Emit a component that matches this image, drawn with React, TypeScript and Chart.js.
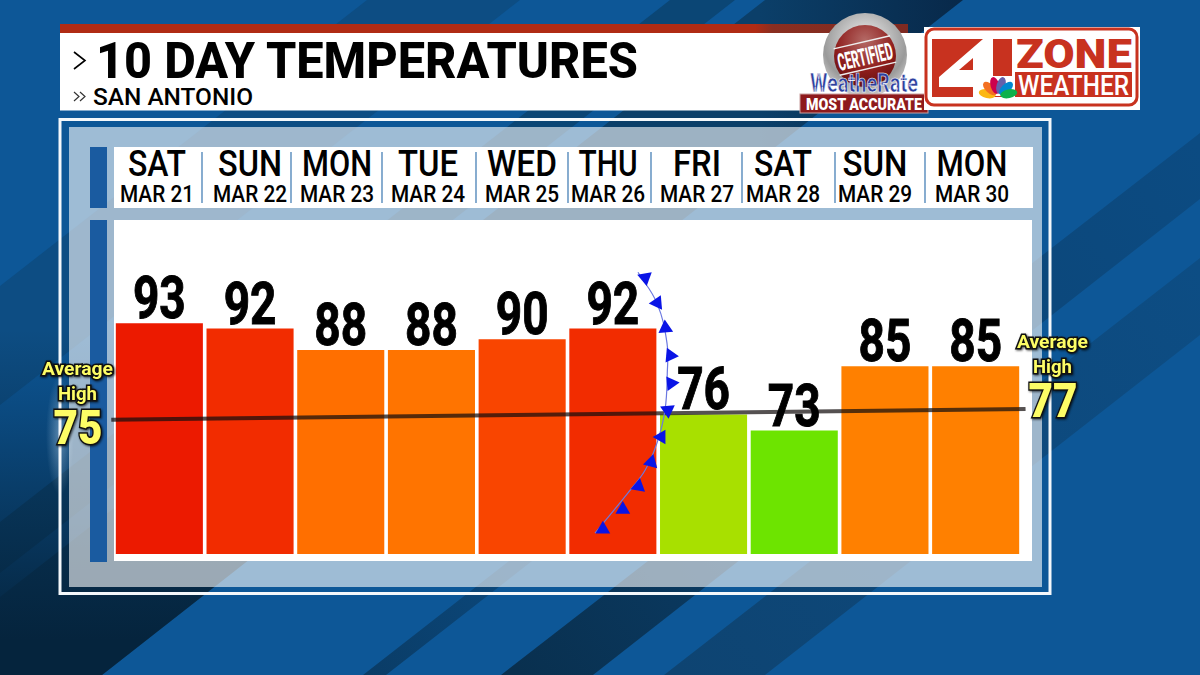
import { useEffect, useRef } from "react"
import { Chart, registerables, type Plugin } from "chart.js"

Chart.register(...registerables)

const DAYS = ["SAT", "SUN", "MON", "TUE", "WED", "THU", "FRI", "SAT", "SUN", "MON"]
const DATES = ["MAR 21", "MAR 22", "MAR 23", "MAR 24", "MAR 25", "MAR 26", "MAR 27", "MAR 28", "MAR 29", "MAR 30"]
const HIGHS = [93, 92, 88, 88, 90, 92, 76, 73, 85, 85]
const BAR_COLORS = ["#ec1a00", "#f22c00", "#ff6f00", "#ff7400", "#f94500", "#f22c00", "#a8e000", "#6de400", "#ff8000", "#ff8000"]

// normal high runs across the whole plot, x is in day slots
const AVG_X = [-0.03, 10.05]
const AVG_Y = [75, 77]

// cold front line, x in day slots, y on the temperature scale
const FRONT_X = [5.777, 5.987, 6.097, 6.1, 6.075, 5.987, 5.855, 5.667, 5.303]
const FRONT_Y = [102.5, 96.7, 89.3, 83.7, 76.8, 70.7, 65.6, 61.4, 53.9]

// the barbs on that line
const BARB_X = [5.857, 5.989, 6.08, 6.135, 6.143, 6.106, 6.033, 5.923, 5.783, 5.61, 5.39]
const BARB_Y = [101.5, 96.8, 92.1, 87, 81.8, 76.8, 71.8, 67.1, 62.6, 58.3, 54.6]
const BARB_TURN = [170, 145, 115, 95, 85, 55, 30, 15, 10, 0, 0]

// header strip placement
const HEAD_CENTERS = [157, 250, 337, 428, 522, 608, 697, 783, 875, 972]
const HEAD_WIDTHS = [58, 64, 70, 60, 70, 59, 48, 58, 65, 71]
const HEAD_SEPS = [202, 291, 382, 476, 568, 651, 742, 835, 925]
const PEACOCK = [
  { angle: -78, color: "#fcb711" },
  { angle: -47, color: "#f37021" },
  { angle: -16, color: "#cc004c" },
  { angle: 16, color: "#6460aa" },
  { angle: 47, color: "#0089d0" },
  { angle: 78, color: "#0db14b" },
]

const FONT = "Roboto, 'Noto Sans', sans-serif"

const bigLabels: Plugin<"bar"> = {
  id: "bigLabels",
  afterDatasetsDraw(chart) {
    const { ctx } = chart
    const bars = chart.getDatasetMeta(0).data
    ctx.save()
    ctx.fillStyle = "#000"
    ctx.strokeStyle = "#000"
    ctx.lineWidth = 1
    ctx.textAlign = "center"
    ctx.textBaseline = "alphabetic"
    ctx.font = `bold 59px ${FONT}`
    bars.forEach((bar, i) => {
      ctx.save()
      ctx.translate(bar.x, bar.y - 5)
      ctx.scale(0.78, 1)
      ctx.fillText(String(HIGHS[i]), 0, 0)
      ctx.strokeText(String(HIGHS[i]), 0, 0)
      ctx.restore()
    })
    ctx.restore()
  },
}

function Backdrop() {
  return (
    <svg width={1200} height={675} style={{ position: "absolute", left: 0, top: 0 }} fontFamily={FONT}>
      <defs>
        <linearGradient id="cornerFade" gradientUnits="userSpaceOnUse" x1="0" y1="330" x2="0" y2="640">
          <stop offset="0" stopColor="#05243d" stopOpacity="0" />
          <stop offset="1" stopColor="#05243d" stopOpacity="1" />
        </linearGradient>
        <linearGradient id="bandC" gradientUnits="userSpaceOnUse" x1="760" y1="0" x2="960" y2="0">
          <stop offset="0" stopColor="#0b3f69" />
          <stop offset="1" stopColor="#08294a" />
        </linearGradient>
        <linearGradient id="band1" gradientUnits="userSpaceOnUse" x1="520" y1="675" x2="1200" y2="150">
          <stop offset="0" stopColor="#09304f" />
          <stop offset="0.6" stopColor="#0c4678" />
          <stop offset="1" stopColor="#0c4b82" />
        </linearGradient>
        <linearGradient id="band2" gradientUnits="userSpaceOnUse" x1="680" y1="675" x2="1200" y2="270">
          <stop offset="0" stopColor="#0e4472" />
          <stop offset="1" stopColor="#0d4d84" />
        </linearGradient>
        <linearGradient id="thinBand" gradientUnits="userSpaceOnUse" x1="363" y1="675" x2="700" y2="410">
          <stop offset="0" stopColor="#0a3c66" />
          <stop offset="1" stopColor="#0a3c66" stopOpacity="0" />
        </linearGradient>
        <linearGradient id="redBar" x1="0" x2="1" y1="0" y2="0">
          <stop offset="0" stopColor="#b02b14" />
          <stop offset="0.82" stopColor="#b02b14" />
          <stop offset="0.84" stopColor="#8a2e20" />
          <stop offset="1" stopColor="#7e2a22" />
        </linearGradient>
        <radialGradient id="glow">
          <stop offset="0" stopColor="#bcd8f0" stopOpacity="0.45" />
          <stop offset="1" stopColor="#bcd8f0" stopOpacity="0" />
        </radialGradient>
        <radialGradient id="ring" cx="0.5" cy="0.35" r="0.7">
          <stop offset="0" stopColor="#f6f6f6" />
          <stop offset="0.7" stopColor="#9a9a9a" />
          <stop offset="1" stopColor="#dcdcdc" />
        </radialGradient>
        <radialGradient id="seal" cx="0.5" cy="0.25" r="0.8">
          <stop offset="0" stopColor="#b46a66" />
          <stop offset="0.6" stopColor="#8e1d1c" />
          <stop offset="1" stopColor="#5e0f10" />
        </radialGradient>
      </defs>

      <rect width={1200} height={675} fill="#0d5797" />
      <polygon points="367,0 520,0 0,405 0,286" fill="#0d4d83" />
      <polygon points="670,0 735,0 0,573 0,522" fill="#0b4675" />
      <polygon points="765,0 963,0 102,675 0,675 0,597" fill="url(#bandC)" />
      <polygon points="0,0 963,0 102,675 0,675" fill="url(#cornerFade)" />
      <polygon points="363,675 386,675 1200,40 1200,22" fill="url(#thinBand)" />
      <polygon points="501,675 593,675 1200,199 1200,133" fill="url(#band1)" />
      <polygon points="664,675 765,675 1200,335 1200,258" fill="url(#band2)" />
      <ellipse cx={60} cy={435} rx={14} ry={60} fill="url(#glow)" />

      <rect x={60} y={119.5} width={990} height={474} fill="none" stroke="#f4f8fb" strokeWidth={3} />
      <rect x={69} y={127} width={973} height={460} fill="rgba(255,255,255,0.6)" />
      <rect x={90} y={147} width={17} height={61} fill="#1a5ba0" />
      <rect x={90} y={220} width={17} height={342} fill="#1a5ba0" />
      <rect x={114} y={147} width={919} height={61} fill="#fff" />
      <rect x={114} y={220} width={918} height={341} fill="#fff" />

      {HEAD_SEPS.map((x, i) => (
        <line key={i} x1={x} x2={x} y1={152} y2={203} stroke="#6a98c4" strokeWidth={1.6} />
      ))}
      {DAYS.map((d, i) => (
        <text key={i} x={HEAD_CENTERS[i]} y={176} textAnchor="middle" fontSize={37} fontWeight={500} fill="#000" textLength={HEAD_WIDTHS[i]} lengthAdjust="spacingAndGlyphs">
          {d}
        </text>
      ))}
      {DATES.map((d, i) => (
        <text key={i} x={HEAD_CENTERS[i]} y={202} textAnchor="middle" fontSize={24} fontWeight={500} fill="#000" textLength={74} lengthAdjust="spacingAndGlyphs">
          {d}
        </text>
      ))}

      {/* title bar */}
      <rect x={60} y={24} width={848} height={10} fill="url(#redBar)" />
      <rect x={60} y={33} width={866} height={77.5} fill="#fff" />
      <polyline points="74,52 85,60.5 74,69" fill="none" stroke="#000" strokeWidth={1.6} />
      <polyline points="74,92 79,96.5 74,101" fill="none" stroke="#333" strokeWidth={1.2} />
      <polyline points="80,92 85,96.5 80,101" fill="none" stroke="#333" strokeWidth={1.2} />
      <text x={96} y={78} fontSize={50} fontWeight={800} fill="#000" textLength={542} lengthAdjust="spacingAndGlyphs">
        10 DAY TEMPERATURES
      </text>
      <text x={93} y={105} fontSize={24.5} fontWeight={500} fill="#000" textLength={160} lengthAdjust="spacingAndGlyphs">
        SAN ANTONIO
      </text>

      {/* accuracy badge */}
      <circle cx={865} cy={55} r={42} fill="url(#ring)" />
      <circle cx={865} cy={56} r={31} fill="url(#seal)" />
      <g transform="rotate(-13 865 56)">
        <line x1={836} x2={894} y1={42} y2={42} stroke="#eee" strokeWidth={1.5} />
        <line x1={836} x2={894} y1={69} y2={69} stroke="#eee" strokeWidth={1.5} />
        <text x={865} y={65} textAnchor="middle" fontSize={24} fontWeight={800} fill="#fff" textLength={56} lengthAdjust="spacingAndGlyphs">
          CERTIFIED
        </text>
      </g>
      <text x={810} y={92} fontSize={25} fontWeight={700} fill="#2d3f9e" stroke="#fff" strokeWidth={0.6} textLength={108} lengthAdjust="spacingAndGlyphs">
        WeatheRate
      </text>
      <rect x={800} y={94} width={128} height={19} fill="#8e1a1c" stroke="#c9a0a0" strokeWidth={1} />
      <text x={864} y={110} textAnchor="middle" fontSize={16} fontWeight={900} fill="#fff" textLength={116} lengthAdjust="spacingAndGlyphs">
        MOST ACCURATE
      </text>

      {/* station logo */}
      <rect x={924} y={27} width={216} height={83} fill="#fff" />
      <rect x={926} y={29} width={211} height={76} rx={8} fill="#fff" stroke="#c8321f" strokeWidth={3} />
      <rect x={932} y={39} width={80} height={58} fill="#c8321f" />
      <polygon points="983,39 993,39 993,97 973,97 973,87 939,87 939,77" fill="#fff" />
      <polygon points="973,58 973,70 959,70" fill="#c8321f" />
      <text x={1016} y={68} fontSize={40} fontWeight={900} fill="#c8321f" textLength={116} lengthAdjust="spacingAndGlyphs">
        ZONE
      </text>
      <rect x={1015} y={72} width={117} height={25} fill="#c8321f" />
      <text x={1018} y={95} fontSize={27} fontWeight={500} fill="#fff" textLength={111} lengthAdjust="spacingAndGlyphs">
        WEATHER
      </text>
      <g transform="translate(998 96)">
        <rect x={-17} y={-20} width={34} height={20} fill="#fff" />
        {PEACOCK.map(p => (
          <ellipse key={p.angle} cx={0} cy={-11} rx={4.4} ry={8.6} fill={p.color} transform={`rotate(${p.angle})`} />
        ))}
      </g>
    </svg>
  )
}

function AverageTag({ label, value, cx, y, valueX, valueW, avgW, highW }: { label: string; value: string; cx: number; y: number; valueX: number; valueW: number; avgW: number; highW: number }) {
  const common = { stroke: "#111", strokeWidth: 3, paintOrder: "stroke" as const, fill: "#fdfd66", fontWeight: 700, textAnchor: "middle" as const, lengthAdjust: "spacingAndGlyphs" as const }
  return (
    <g style={{ filter: "drop-shadow(1px 1px 1px rgba(0,0,0,.7))" }}>
      <text {...common} x={cx} y={y} fontSize={18} textLength={avgW}>{label.split(" ")[0]}</text>
      <text {...common} x={cx} y={y + 25} fontSize={18} textLength={highW}>{label.split(" ")[1]}</text>
      <text {...common} x={valueX} y={y + 69} fontSize={49} fontWeight={900} textLength={valueW}>{value}</text>
    </g>
  )
}

export default function App() {
  const canvasRef = useRef<HTMLCanvasElement>(null)

  useEffect(() => {
    if (!canvasRef.current) return
    const chart = new Chart(canvasRef.current, {
      type: "bar",
      data: {
        labels: DATES,
        datasets: [
          {
            type: "bar" as const,
            data: HIGHS,
            backgroundColor: BAR_COLORS,
            barPercentage: 0.96,
            categoryPercentage: 1,
            grouped: false,
            xAxisID: "x",
            yAxisID: "y",
            order: 4,
          },
          {
            type: "line" as const,
            data: AVG_X.map((x, i) => ({ x, y: AVG_Y[i] })),
            borderColor: "rgba(20,14,14,0.72)",
            borderWidth: 4,
            pointRadius: 0,
            clip: false,
            xAxisID: "xSlots",
            yAxisID: "y",
            order: 3,
          },
          {
            type: "line" as const,
            data: FRONT_X.map((x, i) => ({ x, y: FRONT_Y[i] })),
            borderColor: "#6b78e0",
            borderWidth: 1.2,
            tension: 0.4,
            pointRadius: 0,
            clip: false,
            xAxisID: "xSlots",
            yAxisID: "y",
            order: 2,
          },
          {
            type: "line" as const,
            data: BARB_X.map((x, i) => ({ x, y: BARB_Y[i] })),
            showLine: false,
            backgroundColor: "#0a14e6",
            pointBackgroundColor: "#0a14e6",
            pointBorderWidth: 0,
            pointStyle: "triangle",
            pointRadius: 8.5,
            pointRotation: BARB_TURN,
            clip: false,
            xAxisID: "xSlots",
            yAxisID: "y",
            order: 1,
          },
        ] as any,
      },
      options: {
        responsive: false,
        animation: false,
        devicePixelRatio: 1,
        layout: { padding: { left: 114, right: 179, top: 232, bottom: 121 } },
        plugins: { legend: { display: false }, tooltip: { enabled: false } },
        scales: {
          x: { type: "category", axis: "x", display: false, offset: true },
          // bar chart defaults would otherwise push this one inward too
          xSlots: { type: "linear", axis: "x", display: false, offset: false, min: 0, max: 10 },
          y: { type: "linear", display: false, min: 50, max: 110 },
        },
      },
      plugins: [bigLabels],
    })
    return () => chart.destroy()
  }, [])

  return (
    <div style={{ position: "relative", width: 1200, height: 675, overflow: "hidden" }}>
      <style>{"html,body{margin:0;padding:0;overflow:hidden}"}</style>
      <Backdrop />
      <canvas ref={canvasRef} width={1200} height={675} style={{ position: "absolute", left: 0, top: 0 }} aria-label="10 day high temperatures, San Antonio" role="img" />
      <svg width={1200} height={675} style={{ position: "absolute", left: 0, top: 0 }} fontFamily={FONT}>
        <AverageTag label="Average High" value="75" cx={77.5} y={375} valueX={78} valueW={49} avgW={71} highW={39} />
        <AverageTag label="Average High" value="77" cx={1052.5} y={348} valueX={1053} valueW={49} avgW={71} highW={39} />
      </svg>
    </div>
  )
}
